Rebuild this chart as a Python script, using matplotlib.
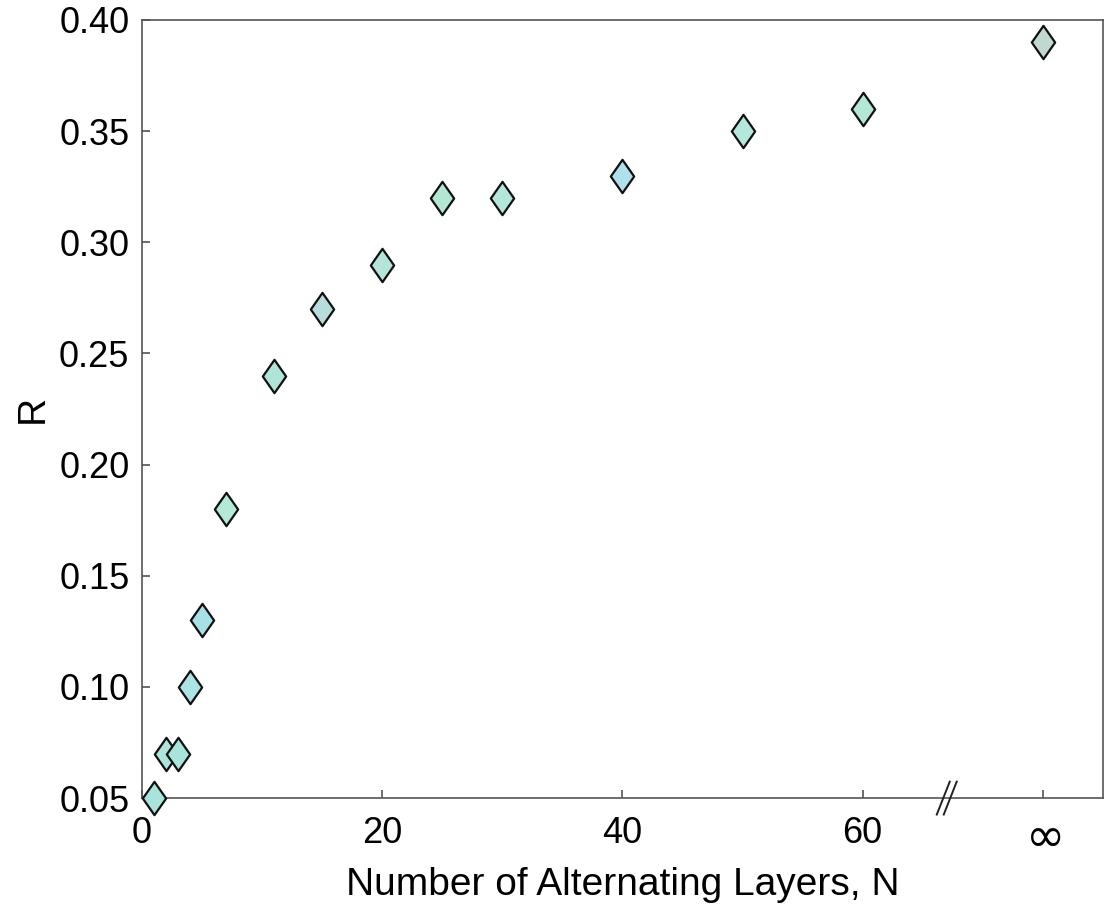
import matplotlib.pyplot as plt
import numpy as np
from matplotlib.path import Path

plt.rcParams['font.family'] = ['Liberation Sans', 'DejaVu Sans']

# data; the infinite-N point sits at x = 75 on the broken axis
layers = [1, 2, 3, 4, 5, 7, 11, 15, 20, 25, 30, 40, 50, 60, 75]
reflect = [0.05, 0.07, 0.07, 0.10, 0.13, 0.18, 0.24, 0.27, 0.29, 0.32, 0.32, 0.33, 0.35, 0.36, 0.39]
xticks = [0, 20, 40, 60, 75]
xticklabels = ['0', '20', '40', '60', '$\\infty$']
yticks = [0.05, 0.10, 0.15, 0.20, 0.25, 0.30, 0.35, 0.40]

faceColors = ['#a8e4dc', '#ace6da', '#a8e4dc', '#ace4e4', '#a8e0e8', '#b4e8d8', '#b0e4d8',
              '#b8dcdc', '#b4e4dc', '#b4e6d4', '#b4e6dc', '#b0e0ec', '#b4e8dc', '#b4e8d4', '#c0d8d0']

diamond = Path([(0, 1), (0.7, 0), (0, -1), (-0.7, 0), (0, 1)],
               [Path.MOVETO, Path.LINETO, Path.LINETO, Path.LINETO, Path.CLOSEPOLY])

fig = plt.figure(figsize=(11.09, 9.09), dpi=100)
ax = fig.add_axes([0.128, 0.122, 0.8665, 0.856])

for x, y, c in zip(layers, reflect, faceColors):
    ax.plot(x, y, linestyle='none', marker=diamond, markersize=24,
            markerfacecolor=c, markeredgecolor='#111111', markeredgewidth=1.6,
            clip_on=False, zorder=3)

ax.set_xlim(0, 80)
ax.set_ylim(0.05, 0.40)
ax.set_xticks(xticks)
ax.set_xticklabels(xticklabels)
ax.set_yticks(yticks)
ax.set_yticklabels([f'{v:.2f}' for v in yticks])
ax.tick_params(direction='in', length=6, width=1.1, color='#444444', labelsize=26,
               top=False, right=False)
ax.tick_params(axis='x', pad=13)
ax.tick_params(axis='y', pad=9)
ax.get_xticklabels()[-1].set_fontsize(34)

for s in ax.spines.values():
    s.set_color('#555555')
    s.set_linewidth(1.2)

ax.set_xlabel('Number of Alternating Layers, N', fontsize=28)
ax.xaxis.set_label_coords(0.5, -0.088)
ax.set_ylabel('R', fontsize=28, labelpad=6)

# axis break marks near x = 67
for dx in (-0.29, 0.29):
    x0 = 67 + dx
    ax.plot([x0 - 0.54, x0 + 0.54], [0.05 - 0.0074, 0.05 + 0.0074], color='#222222',
            linewidth=1.4, clip_on=False, zorder=4)

fig.savefig('out.png', dpi=100)
